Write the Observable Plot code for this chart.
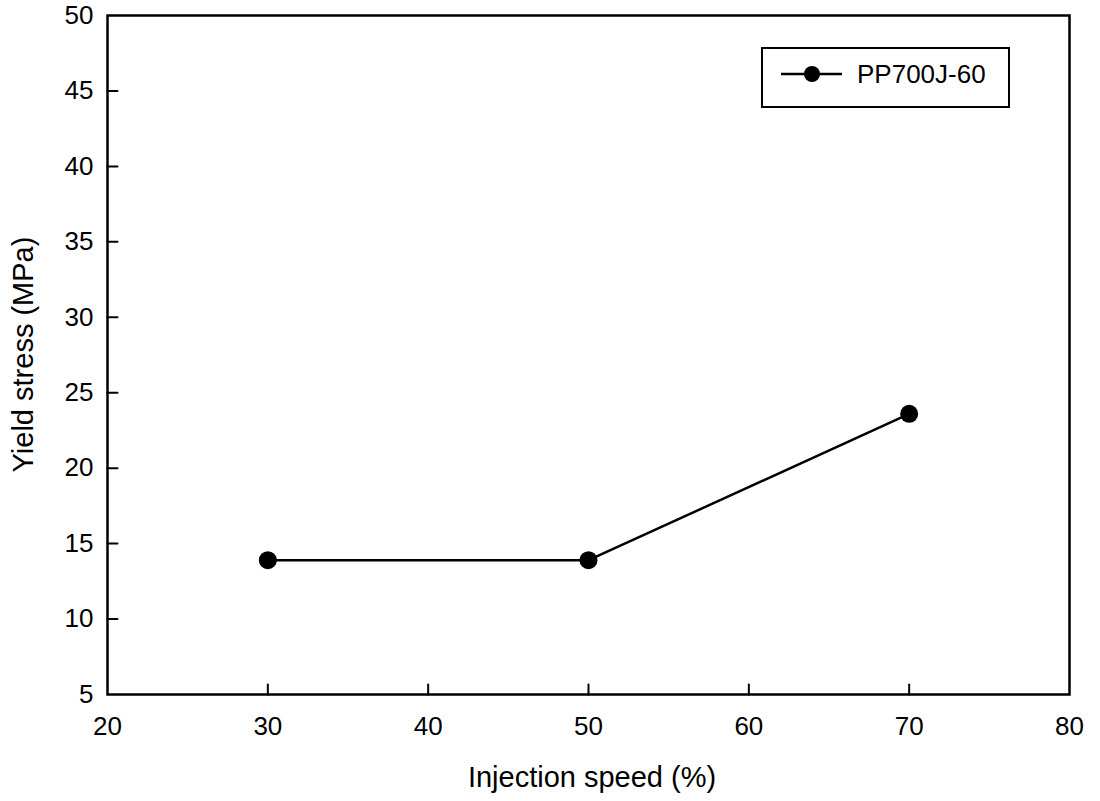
<!DOCTYPE html>
<html>
<head>
<meta charset="utf-8">
<script src="https://cdn.jsdelivr.net/npm/d3@7"></script>
<script src="https://cdn.jsdelivr.net/npm/@observablehq/plot@0.6"></script>
<style>
  html, body { margin: 0; padding: 0; background: #fff; }
  svg { display: block; }
</style>
</head>
<body>
<div id="chart"></div>
<script>
const speed = [30, 50, 70];
const stress = [13.9, 13.9, 23.6];
const seriesName = "PP700J-60";
const xTicks = [20, 30, 40, 50, 60, 70, 80];
const yTicks = [5, 10, 15, 20, 25, 30, 35, 40, 45, 50];
const xTitle = "Injection speed (%)";
const yTitle = "Yield stress (MPa)";

const data = speed.map((s, i) => ({speed: s, stress: stress[i]}));
const font = "Liberation Sans, Arial, Helvetica, sans-serif";

const W = 1100, H = 801;
const mL = 107, mR = 31, mT = 15, mB = 107;

const stick = {draw(context, l) { context.moveTo(0, 0); context.lineTo(0, -l); }};

const chart = Plot.plot({
  width: W,
  height: H,
  marginLeft: mL,
  marginRight: mR,
  marginTop: mT,
  marginBottom: mB,
  style: {fontFamily: font, background: "#fff", color: "#000", overflow: "visible"},
  x: {domain: [20, 80]},
  y: {domain: [5, 50]},
  marks: [
    Plot.axisX(xTicks, {tickSize: 0, tickPadding: 22, fontSize: 26, label: null, fill: "#000"}),
    Plot.axisY(yTicks, {tickSize: 0, tickPadding: 14, fontSize: 26, label: null, fill: "#000"}),
    Plot.vector(xTicks.slice(1, -1), {x: d => d, y: 5, length: 10, rotate: 0, anchor: "start", shape: stick, stroke: "#000", strokeWidth: 2}),
    Plot.vector(yTicks.slice(1, -1), {x: 20, y: d => d, length: 10, rotate: 90, anchor: "start", shape: stick, stroke: "#000", strokeWidth: 2}),
    Plot.frame({stroke: "#000", strokeWidth: 2.5}),
    Plot.line(data, {x: "speed", y: "stress", stroke: "#000", strokeWidth: 2.5}),
    Plot.dot(data, {x: "speed", y: "stress", r: 9, fill: "#000", stroke: "none"})
  ]
});

document.getElementById("chart").appendChild(chart);

const svg = d3.select(chart);
// Axis titles
svg.append("text")
  .attr("x", (mL + W - mR) / 2 + 4)
  .attr("y", 787)
  .attr("text-anchor", "middle")
  .attr("font-family", font)
  .attr("font-size", 29)
  .attr("fill", "#000")
  .text(xTitle);
svg.append("text")
  .attr("transform", `translate(33,${(mT + H - mB) / 2}) rotate(-90)`)
  .attr("text-anchor", "middle")
  .attr("font-family", font)
  .attr("font-size", 29)
  .attr("fill", "#000")
  .text(yTitle);

// Legend
const lg = svg.append("g").attr("transform", "translate(762,48)");
lg.append("rect").attr("width", 247).attr("height", 59)
  .attr("fill", "#fff").attr("stroke", "#000").attr("stroke-width", 2);
lg.append("line").attr("x1", 19).attr("x2", 80).attr("y1", 26).attr("y2", 26)
  .attr("stroke", "#000").attr("stroke-width", 2.5);
lg.append("circle").attr("cx", 50).attr("cy", 26).attr("r", 8).attr("fill", "#000");
lg.append("text").attr("x", 95).attr("y", 35)
  .attr("text-anchor", "start")
  .attr("font-family", font).attr("font-size", 26).attr("fill", "#000")
  .text(seriesName);
</script>
</body>
</html>
